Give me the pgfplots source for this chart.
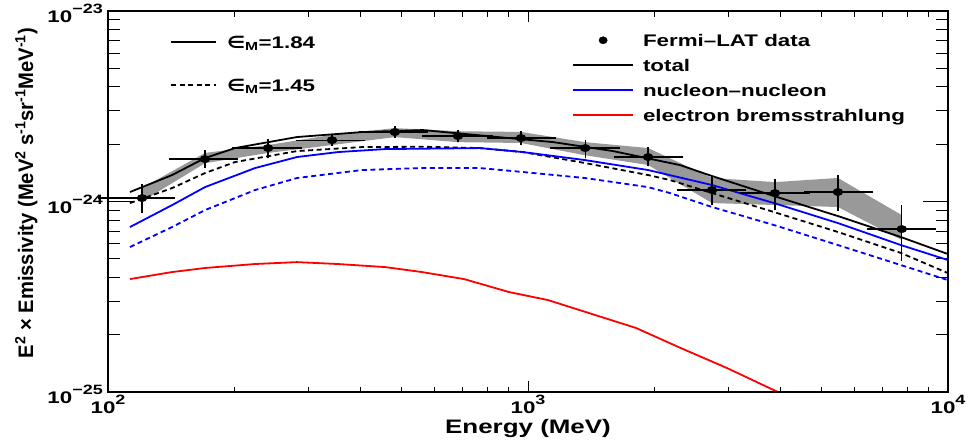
\documentclass[border=0pt]{standalone}
\usepackage{fontspec}
\setmainfont{Liberation Sans}[FakeStretch=1.33]
\newfontfamily\djv{DejaVu Sans}[FakeStretch=1.2]
\usepackage{pgfplots}
\usepackage{pgfplotstable}
\pgfplotsset{compat=1.18}
\newcommand{\fs}{\fontsize{16.8}{20}\selectfont\bfseries}
\newcommand{\tl}[1]{\mbox{\fs 10\raisebox{9pt}{\fontsize{13.5}{15}\selectfont #1}}}
\newcommand{\epsM}{{\djv\bfseries ∈}\textsubscript{M}}

\pgfplotstableread{
x y xm xp ym yp
120.5 1.043e-24 24.5 21.6 0.143e-24 0.147e-24
170.2 1.671e-24 28.1 30.4 0.115e-24 0.129e-24
240.5 1.910e-24 39.9 44.5 0.160e-24 0.140e-24
341.5 2.100e-24 56.5 61.0 0.070e-24 0.080e-24
482.0 2.316e-24 79.5 87.0 0.086e-24 0.084e-24
681.0 2.207e-24 112 131 0.087e-24 0.083e-24
962.0 2.154e-24 150 186 0.104e-24 0.096e-24
1368 1.909e-24 220 261 0.159e-24 0.121e-24
1932 1.713e-24 303 369 0.123e-24 0.147e-24
2742 1.149e-24 441 509 0.156e-24 0.161e-24
3873 1.108e-24 622 741 0.172e-24 0.157e-24
5469 1.122e-24 855 1048 0.197e-24 0.208e-24
7762 0.717e-24 1245 1442 0.212e-24 0.208e-24
}\fermi

\begin{document}
\begin{tikzpicture}
\path[use as bounding box] (-108pt,-49pt) rectangle (860pt,392pt);
% main axis with data and y ticks
\begin{axis}[xmode=log, ymode=log, xmin=100, xmax=10000, ymin=1e-25, ymax=1e-23,
  width=840pt, height=381pt, scale only axis, at={(0pt,0pt)}, anchor=south west,
  axis line style={line width=1.2pt}, tick style={black, line width=1pt},
  clip=false,
  xtick=\empty,
  ytick={1e-25,1e-24,1e-23},
  yticklabels={\tl{−25},\tl{−24},\tl{−23}},
  major tick length=25pt, minor tick length=12pt,
  yticklabel style={font=\fs, yshift=-2.5pt, inner sep=5pt},
  ylabel={\resizebox{330pt}{\height}{E\textsuperscript{2} × Emissivity (MeV\textsuperscript{2} s\textsuperscript{-1}sr\textsuperscript{-1}MeV\textsuperscript{-1})}},
  ylabel style={at={(axis description cs:-0.0893,0.5223)}, anchor=base, font=\fontsize{21}{24}\selectfont\bfseries},
]
\addplot[fill=gray!80, draw=none] coordinates {
(120.5,1.178e-24) (170.2,1.80e-24) (240.5,1.98e-24) (341.5,2.24e-24) (482,2.43e-24)
(681,2.34e-24) (962,2.32e-24) (1368,2.05e-24) (1932,1.91e-24) (2742,1.33e-24)
(3873,1.265e-24) (5469,1.33e-24) (7762,0.849e-24)
(7762,0.628e-24) (5469,0.936e-24) (3873,0.959e-24) (2742,0.982e-24) (1932,1.555e-24)
(1368,1.75e-24) (962,2.03e-24) (681,2.05e-24) (482,2.18e-24) (341.5,1.98e-24)
(240.5,1.80e-24) (170.2,1.59e-24) (120.5,1.0e-24)
} -- cycle;
% total, eps=1.84
\addplot[black, line width=1.8pt] coordinates {
(112.8,1.122e-24) (142.1,1.378e-24) (170.2,1.692e-24) (200.6,1.909e-24) (281.8,2.181e-24)
(402.5,2.316e-24) (562.3,2.373e-24) (798.6,2.207e-24) (1147,2.052e-24) (1594,1.841e-24)
(2301,1.554e-24) (2743,1.361e-24) (3852,1.069e-24) (5470,0.839e-24) (7727,0.651e-24)
(10000,0.530e-24)};
% total, eps=1.45
\addplot[black, line width=1.8pt, dash pattern=on 5pt off 3.5pt] coordinates {
(112.8,0.982e-24) (142.1,1.177e-24) (170.2,1.411e-24) (200.6,1.612e-24) (281.8,1.841e-24)
(402.5,1.932e-24) (562,1.94e-24) (768.7,1.909e-24) (972.7,1.819e-24) (1367,1.593e-24)
(1931,1.378e-24) (2178,1.297e-24) (2743,1.108e-24) (3852,0.881e-24) (5470,0.692e-24)
(7727,0.537e-24) (10000,0.421e-24)};
% nucleon-nucleon, eps=1.84
\addplot[blue, line width=1.8pt] coordinates {
(112.8,0.735e-24) (142.1,0.958e-24) (170.2,1.191e-24) (223.9,1.499e-24) (281.8,1.713e-24)
(352.8,1.819e-24) (456.6,1.886e-24) (768.7,1.909e-24) (972.7,1.819e-24) (1367,1.651e-24)
(1931,1.464e-24) (2743,1.221e-24) (3852,0.982e-24) (5470,0.771e-24) (7727,0.591e-24)
(10000,0.493e-24)};
% nucleon-nucleon, eps=1.45
\addplot[blue, line width=1.8pt, dash pattern=on 5pt off 3.5pt] coordinates {
(112.8,0.577e-24) (142.1,0.735e-24) (170.2,0.902e-24) (223.9,1.149e-24) (281.8,1.329e-24)
(402.5,1.464e-24) (560,1.50e-24) (768.7,1.499e-24) (972.7,1.429e-24) (1367,1.329e-24)
(1931,1.191e-24) (2178,1.108e-24) (2743,0.936e-24) (3852,0.753e-24) (5470,0.591e-24)
(7727,0.464e-24) (10000,0.387e-24)};
% electron bremsstrahlung
\addplot[red, line width=1.8pt] coordinates {
(112.8,0.392e-24) (142.1,0.4265e-24) (170.2,0.448e-24) (223.9,0.470e-24) (281.8,0.481e-24)
(352.8,0.470e-24) (456.6,0.453e-24) (559.2,0.4265e-24) (704.1,0.392e-24) (901,0.335e-24)
(1116,0.304e-24) (1808,0.217e-24) (2314,0.170e-24) (2977,0.1337e-24) (3937,0.1e-24)};
% Fermi-LAT data
\addplot[black, only marks, mark=*, mark size=3.7pt, mark options={xscale=1.35},
  error bars/.cd, x dir=both, x explicit, y dir=both, y explicit,
  error bar style={line width=1.3pt, black},
  error mark options={line width=1.3pt, mark size=3pt, black}]
  table[x=x, y=y, x error plus=xp, x error minus=xm, y error plus=yp, y error minus=ym] {\fermi};
\end{axis}
% x ticks, x label, right legend
\begin{axis}[xmode=log, ymode=log, xmin=100, xmax=10000, ymin=1e-25, ymax=1e-23,
  width=840pt, height=381pt, scale only axis, at={(0pt,0pt)}, anchor=south west,
  axis line style={line width=1.2pt}, tick style={black, line width=1pt},
  ytick=\empty,
  xtick={100,1000,10000},
  xticklabels={\tl{2},\tl{3},\tl{4}},
  xticklabel style={font=\fs, inner sep=3pt},
  major tick length=11pt, minor tick length=5.5pt,
  xlabel={Energy (MeV)},
  xlabel style={at={(axis description cs:0.5,0)}, anchor=base, yshift=-41.5pt, font=\fontsize{19.5}{22}\selectfont\bfseries},
  legend image code/.code={\draw[#1, mark repeat=2, mark phase=2] plot coordinates {(0pt,0pt) (30pt,0pt) (60pt,0pt)};},
  legend cell align=left,
  legend style={at={(axis description cs:0.5524,0.9396)}, anchor=north west, draw=none, fill=none,
    inner sep=0pt, row sep=13pt, column sep=9pt,
    nodes={inner sep=0pt, text height=12pt, text depth=0pt, font=\fs}},
]
\addlegendimage{black, only marks, mark=*, mark size=3.6pt, mark options={xscale=1.15}}
\addlegendentry{Fermi–LAT data}
\addlegendimage{black, line width=1.8pt}
\addlegendentry{total}
\addlegendimage{blue, line width=1.8pt}
\addlegendentry{nucleon–nucleon}
\addlegendimage{red, line width=1.8pt}
\addlegendentry{electron bremsstrahlung}
\end{axis}
% left legend
\begin{axis}[xmode=log, ymode=log, xmin=100, xmax=10000, ymin=1e-25, ymax=1e-23,
  width=840pt, height=381pt, scale only axis, at={(0pt,0pt)}, anchor=south west,
  hide axis,
  legend image code/.code={\draw[#1] (0pt,0pt) -- (45pt,0pt);},
  legend cell align=left,
  legend style={at={(axis description cs:0.0738,0.9344)}, anchor=north west, draw=none, fill=none,
    inner sep=0pt, row sep=31pt, column sep=10pt,
    nodes={inner sep=0pt, text height=12pt, text depth=0pt, font=\fs}},
]
\addlegendimage{black, line width=1.8pt}
\addlegendentry{\epsM=1.84}
\addlegendimage{black, line width=1.8pt, dash pattern=on 5pt off 3.5pt}
\addlegendentry{\epsM=1.45}
\end{axis}
\end{tikzpicture}
\end{document}
